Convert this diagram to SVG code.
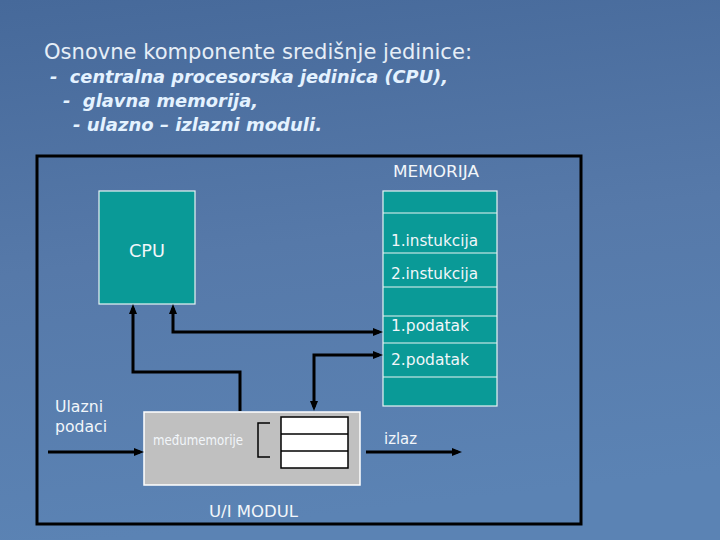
<svg xmlns="http://www.w3.org/2000/svg" width="720" height="540" viewBox="0 0 720 540">
<defs>
<linearGradient id="bg" x1="0" y1="0" x2="0.15" y2="1">
<stop offset="0" stop-color="#46699a"/>
<stop offset="0.5" stop-color="#5679a9"/>
<stop offset="1" stop-color="#5b83b4"/>
</linearGradient>
<marker id="ah" viewBox="0 0 10 8" markerWidth="10" markerHeight="8" refX="6" refY="4" orient="auto-start-reverse" markerUnits="userSpaceOnUse">
<path d="M0,0 L10,4 L0,8 z" fill="#000"/>
</marker>
<style>
.t{font-family:"DejaVu Sans","Liberation Sans",sans-serif;fill:#f2f6fa}
.title{font-size:21px;fill:#e6eef7}
.sub{font-size:18px;font-weight:bold;font-style:italic;fill:#e4f2ff}
.lbl{font-size:16px}
.box{fill:#0a9a97;stroke:#e8f4f4;stroke-width:1.2}
.conn{fill:none;stroke:#000;stroke-width:3}
.thin{fill:none;stroke:#000;stroke-width:1.5}
</style>
</defs>
<rect width="720" height="540" fill="url(#bg)"/>

<g id="heading">
<text class="t title" x="44" y="59" textLength="428" lengthAdjust="spacingAndGlyphs">Osnovne komponente središnje jedinice:</text>
<text class="t sub" x="50" y="83" xml:space="preserve" textLength="398" lengthAdjust="spacingAndGlyphs">-  centralna procesorska jedinica (CPU),</text>
<text class="t sub" x="63" y="107" xml:space="preserve" textLength="195" lengthAdjust="spacingAndGlyphs">-  glavna memorija,</text>
<text class="t sub" x="73" y="131" textLength="249" lengthAdjust="spacingAndGlyphs">- ulazno – izlazni moduli.</text>
</g>

<g id="frame">
<rect x="37" y="156" width="544" height="368" fill="none" stroke="#000" stroke-width="3"/>
</g>

<g id="cpu">
<rect class="box" x="99" y="191" width="96" height="113"/>
<text class="t" x="129" y="257" font-size="17" textLength="36" lengthAdjust="spacingAndGlyphs">CPU</text>
</g>

<g id="memorija">
<text class="t lbl" x="393" y="177" textLength="86" lengthAdjust="spacingAndGlyphs">MEMORIJA</text>
<rect class="box" x="383" y="191" width="114" height="215"/>
<g stroke="#e8f4f4" stroke-width="1.2">
<line x1="383" y1="213" x2="497" y2="213"/>
<line x1="383" y1="253" x2="497" y2="253"/>
<line x1="383" y1="287" x2="497" y2="287"/>
<line x1="383" y1="316" x2="497" y2="316"/>
<line x1="383" y1="343" x2="497" y2="343"/>
<line x1="383" y1="377" x2="497" y2="377"/>
</g>
<text class="t lbl" x="391" y="246" textLength="87" lengthAdjust="spacingAndGlyphs">1.instukcija</text>
<text class="t lbl" x="391" y="279" textLength="87" lengthAdjust="spacingAndGlyphs">2.instukcija</text>
<text class="t lbl" x="391" y="331" textLength="78" lengthAdjust="spacingAndGlyphs">1.podatak</text>
<text class="t lbl" x="391" y="365" textLength="78" lengthAdjust="spacingAndGlyphs">2.podatak</text>
</g>

<g id="ui-modul">
<rect x="144" y="412" width="216" height="73" fill="#c0c0c0" stroke="#ffffff" stroke-width="1.5"/>
<text class="t" x="153" y="445" font-size="14" textLength="90" lengthAdjust="spacingAndGlyphs">međumemorije</text>
<path class="thin" d="M270 423 H258 V457 H270"/>
<rect x="281" y="417" width="67" height="51" fill="#fff" stroke="#000" stroke-width="1.5"/>
<line x1="281" y1="434" x2="348" y2="434" stroke="#000" stroke-width="1.5"/>
<line x1="281" y1="451" x2="348" y2="451" stroke="#000" stroke-width="1.5"/>
<text class="t lbl" x="209" y="517" textLength="89" lengthAdjust="spacingAndGlyphs">U/I MODUL</text>
</g>

<g id="ulaz">
<text class="t lbl" x="55" y="412" textLength="48" lengthAdjust="spacingAndGlyphs">Ulazni</text>
<text class="t lbl" x="55" y="432" textLength="52" lengthAdjust="spacingAndGlyphs">podaci</text>
</g>

<g id="izlaz">
<text class="t lbl" x="384" y="444" textLength="33" lengthAdjust="spacingAndGlyphs">izlaz</text>
</g>

<g id="connectors">
<path class="conn" d="M240 411 V372 H133 V308" marker-end="url(#ah)"/>
<path class="conn" d="M173 308 V332 H379" marker-start="url(#ah)" marker-end="url(#ah)"/>
<path class="conn" d="M314 407 V355 H379" marker-start="url(#ah)" marker-end="url(#ah)"/>
<path class="conn" d="M48 452 H140" marker-end="url(#ah)"/>
<path class="conn" d="M366 452 H458" marker-end="url(#ah)"/>
</g>
</svg>
